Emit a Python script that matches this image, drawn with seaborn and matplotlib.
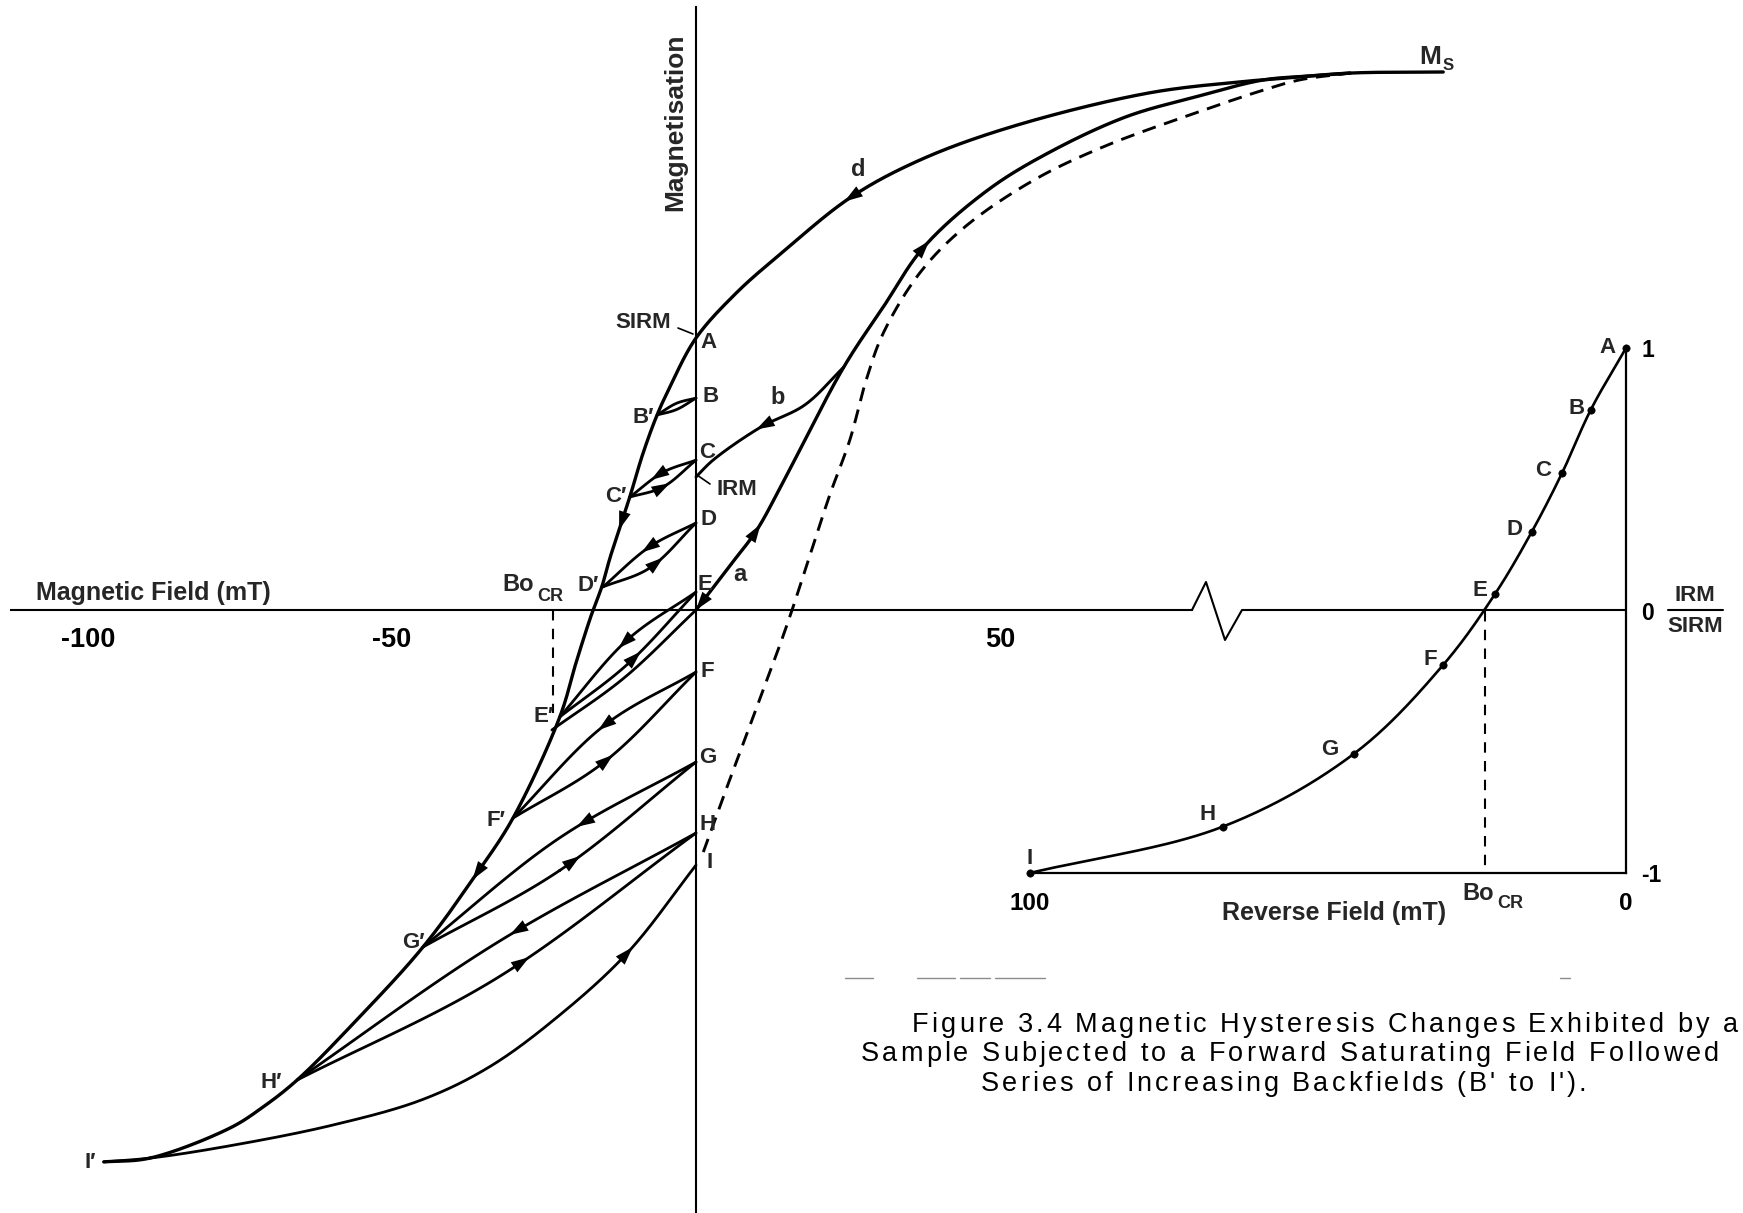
import numpy as np
import matplotlib
matplotlib.use("Agg")
import matplotlib.pyplot as plt
import seaborn as sns
from matplotlib.font_manager import FontProperties
from matplotlib.textpath import TextToPath

# ---------------------------------------------------------------------------
# Data: applied field in mT, magnetisation relative to SIRM
# ---------------------------------------------------------------------------
# descending branch d: saturation -> SIRM (A) -> backfield points -> I'
branch_d_field = [122.9, 107.6, 97.2, 91.1, 74.5, 51.8, 36.8, 25.5, 14.1, 6.6, 0.0,
                  -4.3, -6.4, -8.7, -10.9, -14.1, -15.5, -17.1, -19.6, -22.4, -30.1,
                  -36.0, -44.9, -55.8, -65.6, -71.2, -76.6, -89.8, -97.4]
branch_d_mag = [1.978, 1.974, 1.956, 1.945, 1.901, 1.776, 1.654, 1.518, 1.313, 1.165, 1.0,
                0.820, 0.717, 0.577, 0.415, 0.195, 0.085, -0.011, -0.184, -0.393, -0.765,
                -0.967, -1.239, -1.507, -1.728, -1.827, -1.904, -2.015, -2.029]

# initial magnetisation curve a: origin -> saturation
branch_a_field = [0.0, 5.4, 10.0, 14.5, 24.3, 30.8, 37.5, 48.0, 57.9, 70.7, 82.1, 93.4, 101.0, 107.6]
branch_a_mag = [0.0, 0.158, 0.294, 0.478, 0.893, 1.114, 1.335, 1.544, 1.680, 1.813, 1.886, 1.949, 1.963, 1.974]

# ascending branch of the major loop (dashed)
branch_up_field = [1.2, 4.3, 8.9, 13.5, 15.8, 18.75, 22.0, 25.3, 28.0, 30.8, 36.8, 44.2,
                   55.6, 66.9, 82.1, 93.4, 99.3, 107.6]
branch_up_mag = [-0.890, -0.699, -0.423, -0.147, 0.0, 0.202, 0.423, 0.625, 0.846, 1.018, 1.239,
                 1.408, 1.581, 1.702, 1.827, 1.912, 1.949, 1.974]

# recoil curve b: from curve a back to zero field (IRM)
recoil_b_field = [24.3, 17.9, 10.7, 2.8, 0.0]
recoil_b_mag = [0.893, 0.754, 0.673, 0.551, 0.489]

# minor loops X <-> X'
loop_names = ["B", "C", "D", "E", "F", "G", "H"]
remanence_mag = [0.779, 0.551, 0.320, 0.066, -0.228, -0.559, -0.820]
backfield = [-6.4, -10.9, -15.3, -22.4, -30.1, -44.9, -65.6]
backfield_mag = [0.717, 0.415, 0.085, -0.393, -0.765, -1.239, -1.728]
loop_mid_field = [-3.2, -5.45, -7.65, -11.2, -15.05, -22.45, -32.8]
descent_mid_mag = [0.760, 0.506, 0.232, -0.108, -0.424, -0.838, -1.224]
recoil_mid_mag = [0.737, 0.452, 0.154, -0.198, -0.558, -0.958, -1.354]

# return from E' to the origin
return_e_field = [-23.7, -11.85, 0.0]
return_e_mag = [-0.441, -0.250, 0.0]

# recoil from I' to I
recoil_i_field = [-97.4, -89.8, -78.0, -60.0, -45.0, -34.0, -23.0, -11.3, 0.0]
recoil_i_mag = [-2.029, -2.015, -1.975, -1.895, -1.800, -1.680, -1.500, -1.261, -0.938]

# remanence curve (inset): reverse field in mT, IRM/SIRM
inset_names = ["A", "B", "C", "D", "E", "F", "G", "H", "I"]
inset_field = [0.0, 5.9, 10.7, 15.8, 22.0, 30.7, 45.6, 67.6, 100.0]
inset_ratio = [1.0, 0.765, 0.525, 0.300, 0.062, -0.208, -0.545, -0.823, -1.0]
coercivity_remanence = 23.6

main_ticks = [-100, -50, 50]
main_tick_labels = ["-100", "-50", "50"]

# ---------------------------------------------------------------------------
sns.set_style("white")
plt.rcParams["font.family"] = ["Liberation Sans", "DejaVu Sans"]
plt.rcParams["axes.unicode_minus"] = False

W, H = 1743, 1213
fig = plt.figure(figsize=(W / 100, H / 100), dpi=100)
ax = fig.add_axes([0, 0, 1, 1])
X0, KX, Y0, KY = 696, 6.08, 610, 272
ax.set_xlim(-X0 / KX, (W - X0) / KX)
ax.set_ylim((Y0 - H) / KY, Y0 / KY)
ax.patch.set_alpha(0)


def P(px, py):
    """figure pixel position -> main data coordinates"""
    return (px - X0) / KX, (Y0 - py) / KY


def smooth(xs, ys, n=40, sx=KX, sy=KY):
    """centripetal Catmull-Rom curve through the given points"""
    p = np.column_stack([np.asarray(xs, float) * sx, np.asarray(ys, float) * sy])
    ext = np.vstack([2 * p[0] - p[1], p, 2 * p[-1] - p[-2]])
    out = []
    for i in range(1, len(ext) - 2):
        p0, p1, p2, p3 = ext[i - 1:i + 3]
        t0 = 0.0
        t1 = t0 + np.linalg.norm(p1 - p0) ** 0.5
        t2 = t1 + np.linalg.norm(p2 - p1) ** 0.5
        t3 = t2 + np.linalg.norm(p3 - p2) ** 0.5
        t = np.linspace(t1, t2, n)[:, None]
        A1 = (t1 - t) / (t1 - t0) * p0 + (t - t0) / (t1 - t0) * p1
        A2 = (t2 - t) / (t2 - t1) * p1 + (t - t1) / (t2 - t1) * p2
        A3 = (t3 - t) / (t3 - t2) * p2 + (t - t2) / (t3 - t2) * p3
        B1 = (t2 - t) / (t2 - t0) * A1 + (t - t0) / (t2 - t0) * A2
        B2 = (t3 - t) / (t3 - t1) * A2 + (t - t1) / (t3 - t1) * A3
        out.append((t2 - t) / (t2 - t1) * B1 + (t - t1) / (t2 - t1) * B2)
    c = np.vstack(out)
    return c[:, 0] / sx, c[:, 1] / sy


def draw(target, xs, ys, lw, dashes=None):
    sns.lineplot(x=xs, y=ys, sort=False, estimator=None, color="black",
                 linewidth=lw, ax=target, legend=False)
    line = target.lines[-1]
    line.set_solid_capstyle("round")
    if dashes:
        line.set_dashes(dashes)
    return line


def arrow_on(cx, cy, at, reverse=False, tip_at=False, size=16):
    px, py = cx * KX, cy * KY
    i = int(np.argmin((px - at[0] * KX) ** 2 + (py - at[1] * KY) ** 2))
    j0, j1 = max(i - 3, 0), min(i + 3, len(cx) - 1)
    vx, vy = px[j1] - px[j0], py[j1] - py[j0]
    if reverse:
        vx, vy = -vx, -vy
    L = np.hypot(vx, vy)
    ux, uy = vx / L, vy / L
    if tip_at:
        tip = (cx[i], cy[i])
        base = (cx[i] - ux * size / KX, cy[i] - uy * size / KY)
    else:
        tip = (cx[i] + ux * size / 2 / KX, cy[i] + uy * size / 2 / KY)
        base = (cx[i] - ux * size / 2 / KX, cy[i] - uy * size / 2 / KY)
    ax.annotate("", xy=tip, xytext=base,
                arrowprops=dict(arrowstyle="-|>,head_length=1.1,head_width=0.36",
                                mutation_scale=12, color="black", lw=0,
                                shrinkA=0, shrinkB=0))


# ---- axes of the hysteresis diagram ---------------------------------------
for side in ("top", "right"):
    ax.spines[side].set_visible(False)
ax.spines["left"].set_position(("data", 0))
ax.spines["bottom"].set_position(("data", 0))
ax.spines["left"].set_bounds(ax.get_ylim()[0], P(0, 7)[1])
ax.spines["bottom"].set_bounds(P(11, 0)[0], P(1192, 0)[0])
for side in ("left", "bottom"):
    ax.spines[side].set_color("black")
    ax.spines[side].set_linewidth(1.5)
ax.set_yticks([])
ax.set_xticks(main_ticks)
ax.set_xticklabels(main_tick_labels)
ax.tick_params(axis="x", direction="inout", length=16, width=1.3, pad=4,
               labelsize=19.5, colors="black")
for t in ax.get_xticklabels():
    t.set_fontweight("bold")

# axis break and continuation into the remanence plot
zz = [P(1192, 610), P(1206, 582), P(1225, 640), P(1242, 610), P(1626, 610)]
ax.plot([p[0] for p in zz], [p[1] for p in zz], color="black", lw=1.5)

# ---- curves ---------------------------------------------------------------
dx, dy = smooth(branch_d_field, branch_d_mag)
draw(ax, dx, dy, 2.4)
axx, ayy = smooth(branch_a_field, branch_a_mag)
draw(ax, axx, ayy, 2.4)
ux_, uy_ = smooth(branch_up_field, branch_up_mag)
draw(ax, ux_, uy_, 2.1, dashes=(4.8, 3.0))
bx, by = smooth(recoil_b_field, recoil_b_mag)
draw(ax, bx, by, 2.1)

arrow_on(dx, dy, (25.5, 1.518))
arrow_on(dx, dy, (-12.2, 0.320))
arrow_on(dx, dy, (-36.0, -0.967))
arrow_on(axx, ayy, (9.6, 0.294))
arrow_on(axx, ayy, (37.5, 1.335))
arrow_on(axx, ayy, (0.0, 0.0), reverse=True, tip_at=True)
arrow_on(bx, by, (11.0, 0.680))

descent_arrows = [None, (-6.4, 0.496), (-7.9, 0.228), (-12.0, -0.110), (-15.0, -0.423),
                  (-18.75, -0.783), (-29.4, -1.195)]
recoil_arrows = [None, (-5.4, 0.452), (-6.4, 0.173), (-9.7, -0.176), (-14.6, -0.551),
                 (-19.9, -0.919), (-28.9, -1.298)]
for k in range(len(loop_names)):
    lx, ly = smooth([0.0, loop_mid_field[k], backfield[k]],
                    [remanence_mag[k], descent_mid_mag[k], backfield_mag[k]])
    draw(ax, lx, ly, 2.0)
    rx, ry = smooth([backfield[k], loop_mid_field[k], 0.0],
                    [backfield_mag[k], recoil_mid_mag[k], remanence_mag[k]])
    draw(ax, rx, ry, 2.0)
    if descent_arrows[k]:
        arrow_on(lx, ly, descent_arrows[k])
        arrow_on(rx, ry, recoil_arrows[k])

ex, ey = smooth(return_e_field, return_e_mag)
draw(ax, ex, ey, 2.0)
ix, iy = smooth(recoil_i_field, recoil_i_mag)
draw(ax, ix, iy, 2.0)
arrow_on(ix, iy, (-11.3, -1.261))

# coercivity of remanence marker
ax.plot([-coercivity_remanence, -coercivity_remanence], [0, P(0, 713)[1]],
        color="black", lw=1.5, dashes=(5, 4))

# leader lines
ax.plot(*zip(P(678, 328), P(693, 334)), color="black", lw=1.2)
ax.plot(*zip(P(697, 475), P(710, 484)), color="black", lw=1.2)

# faint rule fragments below the remanence plot
for x0_, x1_ in [(845, 873), (917, 955), (960, 990), (995, 1045), (1560, 1570)]:
    ax.plot(*zip(P(x0_, 978), P(x1_, 978)), color="0.55", lw=1.0)


# ---- labels ---------------------------------------------------------------
def label(txt, px, py, size=16, **kw):
    x, y = P(px, py)
    ax.text(x, y, txt, fontsize=size, fontweight="bold", ha="center", va="center", **kw)


label("Magnetisation", 675, 122, size=19, rotation=90)
label("Magnetic Field (mT)", 153, 593, size=18)
label("M", 1430, 57, size=19)
label("S", 1448, 66, size=12)
label("SIRM", 643, 323)
label("IRM", 737, 490)
label("a", 740, 575, size=17)
label("b", 778, 398, size=17)
label("d", 858, 170, size=17)
label("Bo", 518, 585, size=17)
label("CR", 550, 597, size=13)

axis_pos = {"A": (708, 343), "B": (711, 397), "C": (707, 453), "D": (708, 520),
            "E": (705, 585), "F": (707, 672), "G": (708, 758), "H": (708, 825),
            "I": (710, 862)}
prime_pos = {"B": (643, 418), "C": (616, 497), "D": (588, 586), "E": (544, 717),
             "F": (496, 820), "G": (413, 943), "H": (271, 1082), "I": (90, 1162)}
for name, (px, py) in axis_pos.items():
    label(name, px, py)
for name, (px, py) in prime_pos.items():
    label(name + "\u2032", px, py)

# ---- remanence plot (inset) -----------------------------------------------
ins = fig.add_axes([1030 / W, 1 - 873 / H, 596 / W, 525 / H])
ins.patch.set_alpha(0)
ins.set_xlim(100, 0)
ins.set_ylim(-1, 1)
for side in ("top", "left"):
    ins.spines[side].set_visible(False)
for side in ("bottom", "right"):
    ins.spines[side].set_color("black")
    ins.spines[side].set_linewidth(1.6)
ins.set_xticks([100, 50, 0])
ins.set_xticklabels(["100", "", "0"])
ins.tick_params(axis="x", direction="out", length=8, width=1.3, pad=6,
                labelsize=17.5, colors="black")
ins.xaxis.get_major_ticks()[2].tick1line.set_visible(False)
ins.yaxis.tick_right()
ins.set_yticks([1, 0, -1])
ins.set_yticklabels(["1", "0", "-1"])
ins.tick_params(axis="y", length=0, pad=11, labelsize=16.5, colors="black")
for t in ins.get_xticklabels() + ins.get_yticklabels():
    t.set_fontweight("bold")

cx, cy = smooth(inset_field, inset_ratio, sx=5.96, sy=262)
sns.lineplot(x=cx, y=cy, sort=False, estimator=None, color="black", linewidth=1.9,
             ax=ins, legend=False)
sns.scatterplot(x=inset_field, y=inset_ratio, color="black", s=28, ax=ins,
                legend=False, zorder=5, clip_on=False, edgecolor="black")
ins.plot([coercivity_remanence] * 2, [0, -1], color="black", lw=1.5, dashes=(5, 4))

inset_label_pos = [(1607, 348), (1577, 409), (1543, 471), (1514, 530), (1480, 591),
                   (1430, 660), (1330, 750), (1208, 814), (1030, 858)]
for name, (px, py) in zip(inset_names, inset_label_pos):
    label(name, px, py)

label("Reverse Field (mT)", 1334, 913, size=18)
label("Bo", 1478, 893, size=17)
label("CR", 1510, 904, size=13)
label("IRM", 1695, 596)
label("SIRM", 1695, 627)
ax.plot(*zip(P(1668, 610), P(1723, 610)), color="black", lw=1.5)

# ---- caption (letter-spaced, runs to the right edge of the page) ----------
caption = ["Figure 3.4 Magnetic Hysteresis Changes Exhibited by a",
           "Sample Subjected to a Forward Saturating Field Followed by a",
           "Series of Increasing Backfields (B' to I')."]
caption_pos = [(912, 1025), (861, 1054), (981, 1084)]
cap_font = FontProperties(family="Liberation Sans", size=19.5)
t2p = TextToPath()


def width_px(s):
    w, _, _ = t2p.get_text_width_height_descent(s, cap_font, ismath=False)
    return w * 100 / 72


tracking = (826 - width_px(caption[0])) / (len(caption[0]) - 1)
for txt, (px, py) in zip(caption, caption_pos):
    for i, ch in enumerate(txt):
        if ch == " ":
            continue
        left = px + width_px(txt[:i] + "I") - width_px("I") + i * tracking
        if left + width_px(ch) > W - 1:
            break
        x, y = P(left, py)
        ax.text(x, y, ch, fontproperties=cap_font, ha="left", va="center",
                color="black")

fig.savefig("out.png", dpi=100)
